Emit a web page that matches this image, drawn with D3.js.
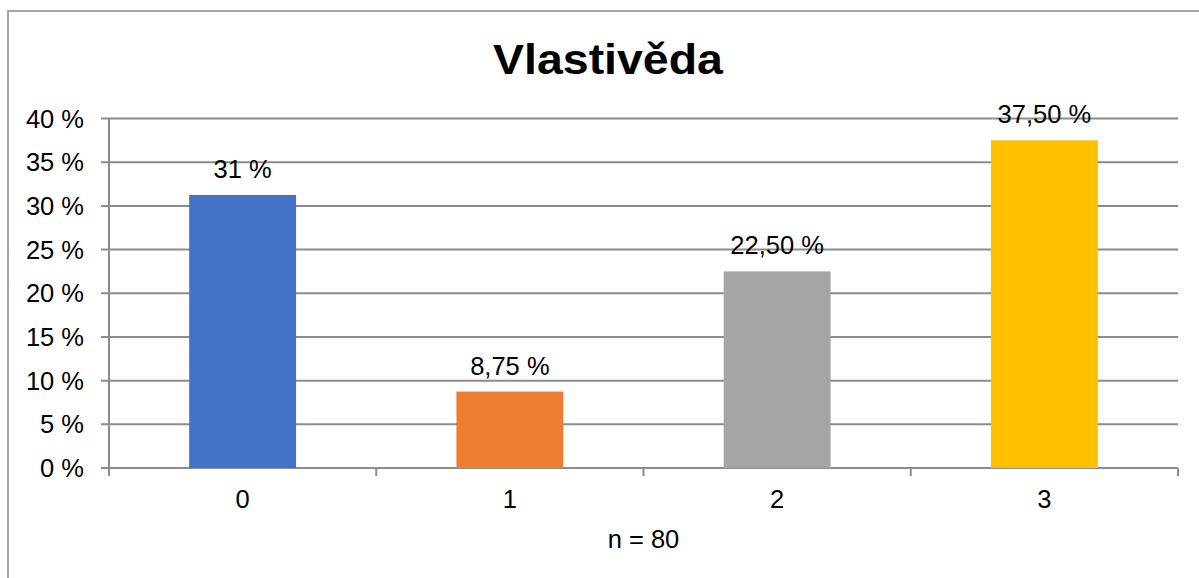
<!DOCTYPE html>
<html>
<head>
<meta charset="utf-8">
<script src="https://cdn.jsdelivr.net/npm/d3@7"></script>
<style>
  body { margin: 0; background: #fff; }
  text { font-family: "Liberation Sans", Arial, sans-serif; fill: #000; }
</style>
</head>
<body>
<div id="chart"></div>
<script>
// Chart data
const categories = ["0", "1", "2", "3"];
const values = [31.25, 8.75, 22.5, 37.5];
const valueLabels = ["31 %", "8,75 %", "22,50 %", "37,50 %"];
const colors = ["#4472C4", "#ED7D31", "#A5A5A5", "#FFC000"];
const yTicks = [0, 5, 10, 15, 20, 25, 30, 35, 40];
const title = "Vlastivěda";
const xTitle = "n = 80";

const W = 1199, H = 578;
const margin = { top: 118.5, right: 21, bottom: 110, left: 109 };
const width = W - margin.left - margin.right;
const height = H - margin.top - margin.bottom;
const fontSize = "25.5px";

const svg = d3.select("#chart").append("svg")
  .attr("width", W)
  .attr("height", H);

// outer chart border (runs off the picture on the right and bottom)
svg.append("rect")
  .attr("x", 8).attr("y", 11)
  .attr("width", 1400).attr("height", 800)
  .attr("fill", "none")
  .attr("stroke", "#a6a6a6")
  .attr("stroke-width", 2);

// title
svg.append("text")
  .attr("x", 608).attr("y", 74)
  .attr("text-anchor", "middle")
  .attr("transform", "translate(608,0) scale(1.08,1) translate(-608,0)")
  .style("font-size", "43px")
  .style("font-weight", "bold")
  .text(title);

const g = svg.append("g")
  .attr("transform", `translate(${margin.left},${margin.top})`);

const x = d3.scaleBand()
  .domain(categories)
  .range([0, width])
  .paddingInner(0.6)
  .paddingOuter(0.3);

const xEdges = d3.scaleLinear().domain([0, categories.length]).range([0, width]);

const y = d3.scaleLinear()
  .domain([0, 40])
  .range([height, 0]);

// horizontal gridlines
g.selectAll(".grid")
  .data(yTicks)
  .enter()
  .append("line")
  .attr("class", "grid")
  .attr("x1", -8)
  .attr("x2", width)
  .attr("y1", d => y(d))
  .attr("y2", d => y(d))
  .attr("stroke", "#8c8c8c")
  .attr("stroke-width", 2);

// y axis line
g.append("line")
  .attr("x1", 0).attr("x2", 0)
  .attr("y1", 0).attr("y2", height + 8)
  .attr("stroke", "#8c8c8c")
  .attr("stroke-width", 2);

// category boundary ticks under the axis
g.selectAll(".xtick")
  .data(d3.range(1, categories.length + 1))
  .enter()
  .append("line")
  .attr("x1", d => xEdges(d))
  .attr("x2", d => xEdges(d))
  .attr("y1", height)
  .attr("y2", height + 8)
  .attr("stroke", "#8c8c8c")
  .attr("stroke-width", 2);

// y tick labels
g.selectAll(".ylab")
  .data(yTicks)
  .enter()
  .append("text")
  .attr("x", -25)
  .attr("y", d => y(d) + 9)
  .attr("text-anchor", "end")
  .style("font-size", fontSize)
  .text(d => d + " %");

// bars
g.selectAll(".bar")
  .data(values)
  .enter()
  .append("rect")
  .attr("x", (d, i) => x(categories[i]))
  .attr("y", d => y(d))
  .attr("width", x.bandwidth())
  .attr("height", d => height - y(d))
  .attr("fill", (d, i) => colors[i]);

// value labels
g.selectAll(".vlab")
  .data(values)
  .enter()
  .append("text")
  .attr("x", (d, i) => x(categories[i]) + x.bandwidth() / 2)
  .attr("y", d => y(d) - 17)
  .attr("text-anchor", "middle")
  .style("font-size", fontSize)
  .text((d, i) => valueLabels[i]);

// category labels
g.selectAll(".xlab")
  .data(categories)
  .enter()
  .append("text")
  .attr("x", d => x(d) + x.bandwidth() / 2)
  .attr("y", height + 40)
  .attr("text-anchor", "middle")
  .style("font-size", fontSize)
  .text(d => d);

// axis title
g.append("text")
  .attr("x", width / 2)
  .attr("y", height + 80)
  .attr("text-anchor", "middle")
  .style("font-size", fontSize)
  .text(xTitle);
</script>
</body>
</html>
